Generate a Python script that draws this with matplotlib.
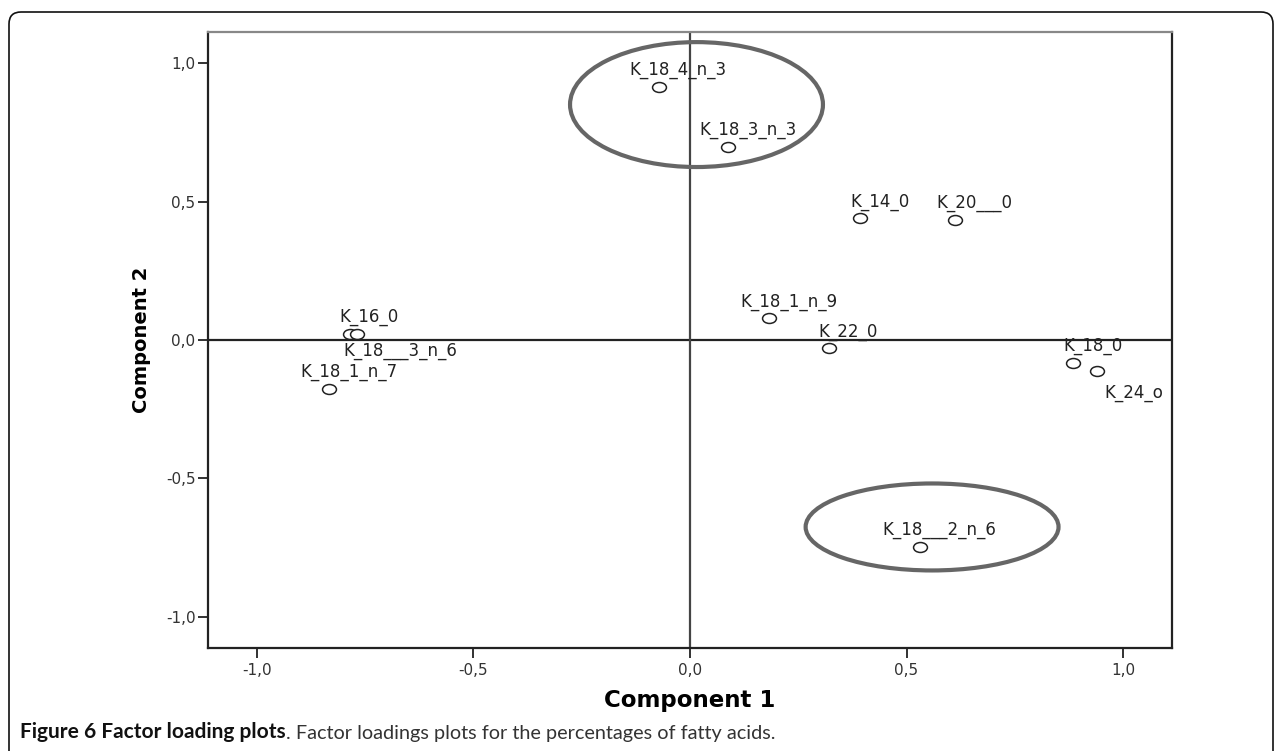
import numpy as np
import matplotlib
matplotlib.use("Agg")
import matplotlib.pyplot as plt
from matplotlib.patches import Ellipse, FancyBboxPatch
from matplotlib.path import Path
from matplotlib.transforms import Affine2D
from matplotlib.ticker import FuncFormatter, MultipleLocator

# factor loadings (component 1, component 2)
names = ["K_18_4_n_3", "K_18_3_n_3", "K_14_0", "K_20___0", "K_18_1_n_9",
         "K_22_0", "K_16_0", "K_18___3_n_6", "K_18_1_n_7", "K_18_0",
         "K_24_o", "K_18___2_n_6"]
comp1 = [-0.072, 0.088, 0.393, 0.612, 0.183, 0.321, -0.785, -0.769,
         -0.833, 0.885, 0.939, 0.531]
comp2 = [0.913, 0.698, 0.439, 0.433, 0.078, -0.030, 0.022, 0.022,
         -0.177, -0.082, -0.111, -0.746]

# label offsets in points (default: above and to the right)
lab_off = [(14, 12)] * len(names)
lab_off[names.index("K_24_o")] = (27, -16)
lab_off[names.index("K_18___3_n_6")] = (31, -12)

fig = plt.figure(figsize=(12.82, 7.51), dpi=100)
ax = fig.add_axes([208 / 1282, 103 / 751, 964 / 1282, 616 / 751])

# outer caption box
box = FancyBboxPatch((0.09, -0.3), 12.64, 7.69,
                     boxstyle="round,pad=0,rounding_size=0.12",
                     transform=fig.dpi_scale_trans, fill=False,
                     ec="#111111", lw=1.2, zorder=0)
fig.add_artist(box)

ax.axhline(0, color="#222222", lw=1.6, zorder=1)
ax.axvline(0, color="#444444", lw=1.6, zorder=1)

# slightly wide open circle, like the SPSS output
oval = Path.unit_circle().transformed(Affine2D().scale(1.4, 1.0))
ax.plot(comp1, comp2, ls="none", marker=oval, ms=10, mfc="white",
        mec="#222222", mew=1.1, zorder=3)

for n, x, y, off in zip(names, comp1, comp2, lab_off):
    ax.annotate(n, (x, y), xytext=off, textcoords="offset points",
                ha="center", va="center", fontsize=12,
                family="DejaVu Sans", color="#222222", zorder=4)

# highlighted groups
ax.add_patch(Ellipse((0.015, 0.850), 0.584, 0.451, fill=False,
                     ec="#666666", lw=3, zorder=2))
ax.add_patch(Ellipse((0.559, -0.675), 0.584, 0.314, fill=False,
                     ec="#666666", lw=3, zorder=2))

ax.set_xlim(-1.113, 1.113)
ax.set_ylim(-1.112, 1.112)
ax.xaxis.set_major_locator(MultipleLocator(0.5))
ax.yaxis.set_major_locator(MultipleLocator(0.5))
fmt = FuncFormatter(lambda v, p: f"{v:.1f}".replace(".", ","))
ax.xaxis.set_major_formatter(fmt)
ax.yaxis.set_major_formatter(fmt)
ax.tick_params(direction="out", length=7.5, width=1.3, color="#222222",
               labelsize=11, labelcolor="#333333")
ax.tick_params(axis="x", pad=3.5)
ax.tick_params(axis="y", pad=1.5)

for side in ["left", "bottom", "right"]:
    ax.spines[side].set_color("#222222")
    ax.spines[side].set_linewidth(1.6)
ax.spines["top"].set_color("#888888")
ax.spines["top"].set_linewidth(1.6)

ax.set_xlabel("Component 1", fontsize=16.5, fontweight="bold", va="center")
ax.xaxis.set_label_coords(0.5, -0.085)
ax.set_ylabel("Component 2", fontsize=14, fontweight="bold", va="center")
ax.yaxis.set_label_coords(-0.0685, 0.5)

t1 = fig.text(20 / 1282, 19 / 751, "Figure 6 Factor loading plots",
              fontsize=15, family="Lato", fontweight="bold",
              color="#111111", va="center", ha="left")
ax.annotate(". Factor loadings plots for the percentages of fatty acids.",
            xy=(1, 0), xycoords=t1, va="bottom", ha="left",
            fontsize=14.3, family="Lato", color="#333333",
            annotation_clip=False)

fig.savefig("out.png", dpi=100)
